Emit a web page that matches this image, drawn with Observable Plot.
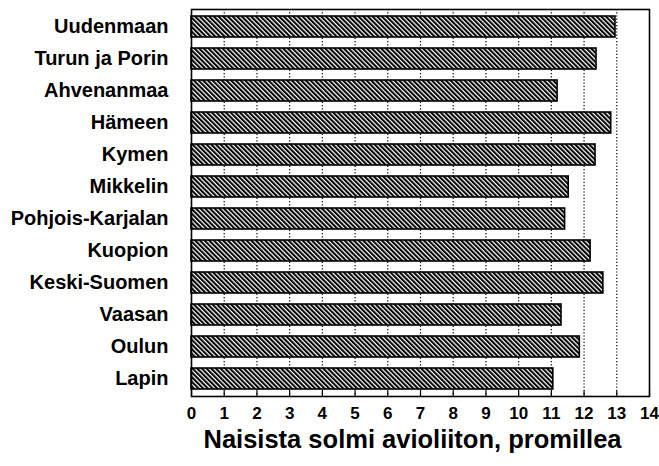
<!DOCTYPE html>
<html>
<head>
<meta charset="utf-8">
<script src="https://cdn.jsdelivr.net/npm/d3@7"></script>
<script src="https://cdn.jsdelivr.net/npm/@observablehq/plot@0.6"></script>
<style>
  html, body { margin: 0; padding: 0; background: #fff; }
</style>
</head>
<body>
<div id="chart"></div>
<script>
const regions = ["Uudenmaan", "Turun ja Porin", "Ahvenanmaa", "Hämeen", "Kymen", "Mikkelin",
  "Pohjois-Karjalan", "Kuopion", "Keski-Suomen", "Vaasan", "Oulun", "Lapin"];
const values = [12.96, 12.38, 11.19, 12.83, 12.35, 11.53, 11.42, 12.2, 12.59, 11.31, 11.87, 11.06];
const xTicks = [0, 1, 2, 3, 4, 5, 6, 7, 8, 9, 10, 11, 12, 13, 14];
const gridTicks = [1, 2, 3, 4, 5, 6, 7, 8, 9, 10, 11, 12, 13];
const xTitle = "Naisista solmi avioliiton, promillea";

const data = regions.map((r, i) => ({region: r, value: values[i]}));

const W = 659, H = 466, mT = 9, mB = 70;
const svg = Plot.plot({
  width: W,
  height: H,
  marginLeft: 191,
  marginRight: 10,
  marginTop: mT,
  marginBottom: mB,
  style: {fontFamily: "'Liberation Sans', Arial, sans-serif", fontSize: "16px", fontWeight: "bold", color: "black", background: "white"},
  x: {domain: [0, 14], label: null},
  y: {domain: regions, label: null, paddingInner: 0.33, paddingOuter: 0.2},
  marks: [
    Plot.ruleX(gridTicks, {stroke: "black", strokeWidth: 1.2, strokeDasharray: "1.2,2"}),
    Plot.barX(data, {x: "value", y: "region", fill: "url(#hatch)", stroke: "black", strokeWidth: 1.6}),
    Plot.ruleX(xTicks, {stroke: "black", strokeWidth: 1.2, insetTop: H - mT - mB - 5}),
    Plot.frame({stroke: "black", strokeWidth: 1.6}),
    Plot.axisY({tickSize: 0, tickPadding: 23, fontSize: 20}),
    Plot.axisX({ticks: xTicks, tickSize: 0, tickPadding: 10, fontSize: 17, tickFormat: d => String(d)}),
    Plot.text([xTitle], {frameAnchor: "bottom", dy: 51, dx: -8, fontSize: 25.5, fontWeight: "bold", fill: "black"})
  ]
});

d3.select(svg).insert("defs", ":first-child").html(`
  <pattern id="hatch" patternUnits="userSpaceOnUse" width="3.3" height="3.3" patternTransform="rotate(-45)">
    <rect width="3.3" height="3.3" fill="white"/>
    <line x1="1" y1="0" x2="1" y2="3.3" stroke="black" stroke-width="2.1"/>
  </pattern>`);

document.getElementById("chart").appendChild(svg);
</script>
</body>
</html>
